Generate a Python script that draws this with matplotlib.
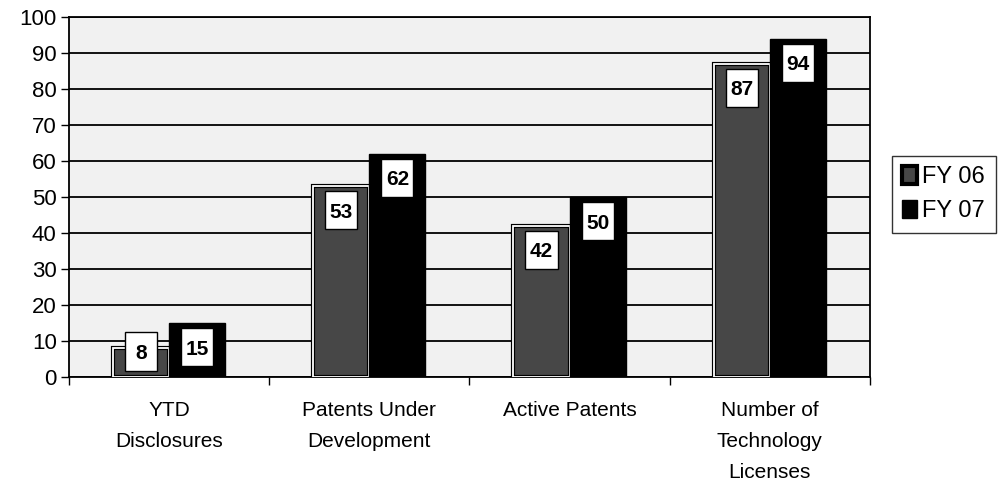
import numpy as np
import matplotlib
matplotlib.use('Agg')
import matplotlib.pyplot as plt
from matplotlib.patches import Rectangle

# technology transfer counts per fiscal year
categories = ['YTD\nDisclosures', 'Patents Under\nDevelopment', 'Active Patents',
              'Number of\nTechnology\nLicenses']
fy06 = [8, 53, 42, 87]
fy07 = [15, 62, 50, 94]
series_names = ['FY 06', 'FY 07']
y_ticks = list(range(0, 101, 10))

plt.rcParams['font.family'] = ['Liberation Sans', 'DejaVu Sans']

fig = plt.figure(figsize=(10.02, 4.98), dpi=100)
ax = fig.add_axes([0.069, 0.243, 0.799, 0.723])
ax.set_facecolor('#f1f1f1')

x = np.arange(len(categories))
width = 0.28

# FY 06 bars: dark grey with a white inner rim and black outline
b06 = ax.bar(x - width / 2, fy06, width, color='#474747', edgecolor='black',
             linewidth=3, zorder=3)
ax.bar(x - width / 2, fy06, width, fill=False, edgecolor='white',
       linewidth=1.3, zorder=3)
b07 = ax.bar(x + width / 2, fy07, width, color='black', edgecolor='black',
             linewidth=1, zorder=3)

# value labels in tall white boxes, just under the top of each bar
box_w, box_h = 0.16, 10.6
for xs, vals in ((x - width / 2, fy06), (x + width / 2, fy07)):
    for xi, v in zip(xs, vals):
        ypos = max(v - 6.7, 7.1)
        ax.add_patch(Rectangle((xi - box_w / 2, ypos - box_h / 2), box_w, box_h,
                               facecolor='white', edgecolor='black',
                               linewidth=1, zorder=4))
        ax.text(xi, ypos, str(v), ha='center', va='center_baseline',
                fontsize=15, fontweight='bold', zorder=5)

ax.set_ylim(0, 100)
ax.set_xlim(-0.5, len(categories) - 0.5)
ax.set_yticks(y_ticks)
ax.yaxis.grid(True, color='black', linewidth=1.3, zorder=1)
ax.set_axisbelow(True)
ax.tick_params(axis='y', labelsize=16, length=6, width=1, direction='out', pad=3)

ax.set_xticks(x)
ax.set_xticklabels(categories, fontsize=15, linespacing=1.8)
ax.set_xticks(np.arange(len(categories) + 1) - 0.5, minor=True)
ax.tick_params(axis='x', which='major', length=0, pad=17)
ax.tick_params(axis='x', which='minor', length=6, width=1)

for s in ax.spines.values():
    s.set_color('black')
    s.set_linewidth(1.3)

leg = fig.legend([b06, b07], series_names, loc='center left',
                 bbox_to_anchor=(0.89, 0.61), fontsize=17, frameon=True,
                 fancybox=False, edgecolor='black', handlelength=0.6,
                 handleheight=0.75, handletextpad=0.25, borderpad=0.45,
                 labelspacing=0.5, borderaxespad=0)
leg.get_frame().set_linewidth(1)

fig.savefig('out.png', dpi=100)
